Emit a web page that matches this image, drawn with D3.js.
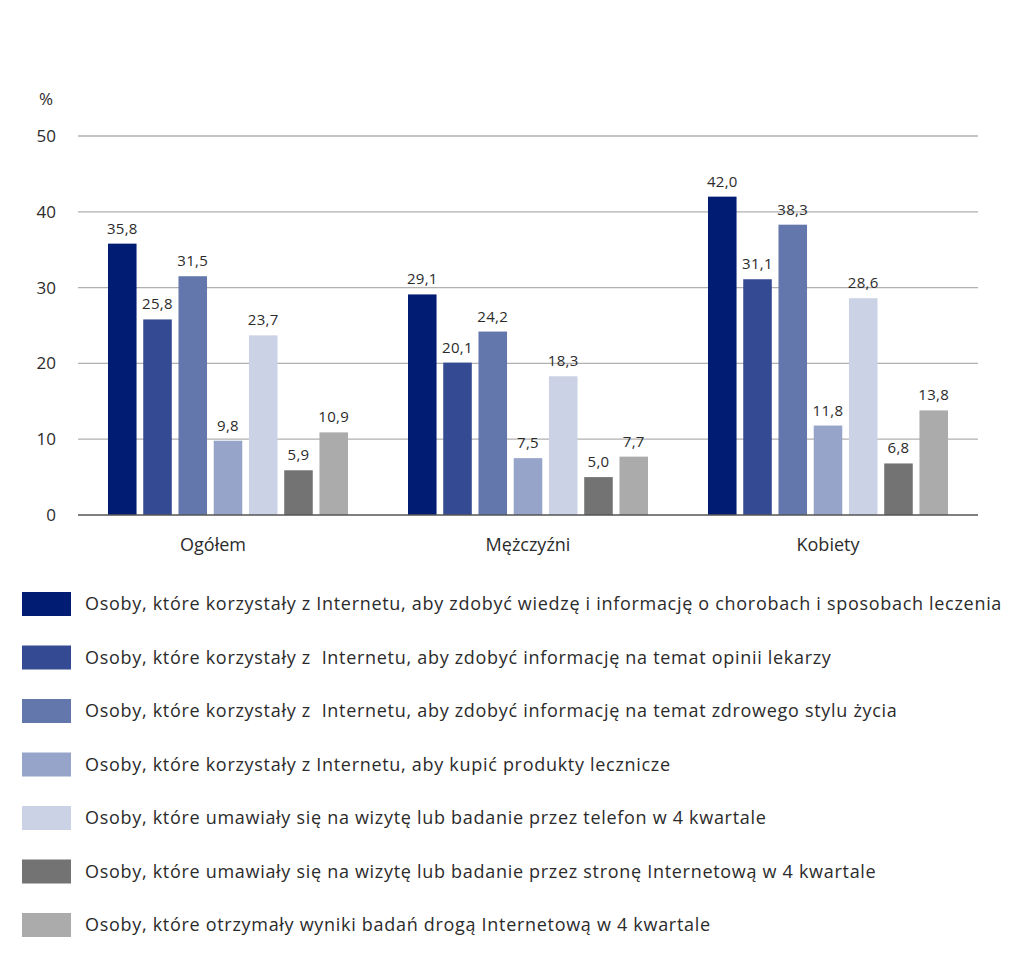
<!DOCTYPE html>
<html><head><meta charset="utf-8">
<script src="https://cdn.jsdelivr.net/npm/d3@7"></script>
<style>
body{margin:0;background:#fff;}
text{font-family:"Open Sans","Noto Sans",sans-serif;fill:#2b2b2b;}
</style></head>
<body><svg id="c" width="1024" height="953"></svg>
<script>
const categories = ["Ogółem","Mężczyźni","Kobiety"];
const seriesNames = [
 "Osoby, które korzystały z Internetu, aby zdobyć wiedzę i informację o chorobach i sposobach leczenia",
 "Osoby, które korzystały z  Internetu, aby zdobyć informację na temat opinii lekarzy",
 "Osoby, które korzystały z  Internetu, aby zdobyć informację na temat zdrowego stylu życia",
 "Osoby, które korzystały z Internetu, aby kupić produkty lecznicze",
 "Osoby, które umawiały się na wizytę lub badanie przez telefon w 4 kwartale",
 "Osoby, które umawiały się na wizytę lub badanie przez stronę Internetową w 4 kwartale",
 "Osoby, które otrzymały wyniki badań drogą Internetową w 4 kwartale"
];
const s1 = [35.8, 29.1, 42.0];
const s2 = [25.8, 20.1, 31.1];
const s3 = [31.5, 24.2, 38.3];
const s4 = [9.8, 7.5, 11.8];
const s5 = [23.7, 18.3, 28.6];
const s6 = [5.9, 5.0, 6.8];
const s7 = [10.9, 7.7, 13.8];
const seriesValues = [s1,s2,s3,s4,s5,s6,s7];
const colors = ["#001c73","#344a92","#6477ad","#97a4ca","#ccd2e5","#737373","#ababab"];
const yTicks = [0,10,20,30,40,50];

const svg = d3.select("#c");
const pLeft = 78, pRight = 978, pTop = 136, pBottom = 515;
const groupW = 240;
const fmt = v => v.toFixed(1).replace(".", ",");

const x0 = d3.scaleBand().domain(categories).range([pLeft, pRight]).paddingInner(0).paddingOuter(0);
const x1 = d3.scaleBand().domain(d3.range(seriesNames.length)).range([0, groupW]).paddingInner(0.19).paddingOuter(0);
const y = d3.scaleLinear().domain([0,50]).range([pBottom, pTop]);

svg.append("g").selectAll("line").data(yTicks.filter(t=>t>0)).join("line")
  .attr("x1", pLeft).attr("x2", pRight)
  .attr("y1", d=>y(d)).attr("y2", d=>y(d))
  .attr("stroke", "#b0b0b0").attr("stroke-width", 1.3);

svg.append("g").selectAll("text").data(yTicks).join("text")
  .attr("x", 56).attr("y", d=>y(d)).attr("dy", "0.35em")
  .attr("text-anchor", "end").attr("font-size", 17).text(d=>d);
svg.append("text").attr("x", 39).attr("y", 105).attr("font-size", 17).text("%");

const groups = svg.append("g").selectAll("g").data(categories).join("g")
  .attr("transform", c => `translate(${x0(c) + x0.bandwidth()/2 - groupW/2},0)`);
groups.each(function(c, ci){
  const g = d3.select(this);
  const data = seriesValues.map((s, si) => ({si, v: s[ci]}));
  g.selectAll("rect").data(data).join("rect")
    .attr("x", d=>x1(d.si)).attr("width", x1.bandwidth())
    .attr("y", d=>y(d.v)).attr("height", d=>y(0)-y(d.v))
    .attr("fill", d=>colors[d.si]);
  g.selectAll("text").data(data).join("text")
    .attr("x", d=>x1(d.si)+x1.bandwidth()/2).attr("y", d=>y(d.v)-10)
    .attr("text-anchor","middle").attr("font-size", 15).attr("letter-spacing", 0.3).text(d=>fmt(d.v));
});

svg.append("line").attr("x1", pLeft).attr("x2", pRight).attr("y1", y(0)).attr("y2", y(0))
  .attr("stroke", "#555").attr("stroke-width", 1.5);

svg.append("g").selectAll("text").data(categories).join("text")
  .attr("x", (c,i) => x0(c) + x0.bandwidth()/2 + (i===0 ? -15 : 0)).attr("y", 551)
  .attr("text-anchor","middle").attr("font-size", 18).text(d=>d);

const ly = d3.scaleLinear().domain([0, 6]).range([604, 925]);
const leg = svg.append("g").selectAll("g").data(seriesNames).join("g")
  .attr("transform", (d,i)=>`translate(0,${ly(i)})`);
leg.append("rect").attr("x", 22).attr("y", -12).attr("width", 49).attr("height", 24)
  .attr("fill", (d,i)=>colors[i]);
leg.append("text").attr("x", 85).attr("y", 0).attr("dy","0.35em")
  .attr("font-size", 18).attr("letter-spacing", 0.7).style("white-space","pre").text(d=>d);
</script></body></html>
